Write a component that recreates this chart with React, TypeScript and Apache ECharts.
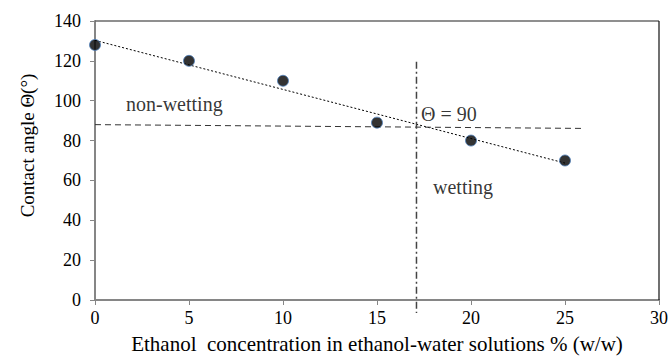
import React, { useEffect, useRef } from "react";
import * as echarts from "echarts";

const xValues = [0, 5, 10, 15, 20, 25];
const yValues = [128, 120, 110, 89, 80, 70];
const trendLine = [[0, 130.3], [25, 68.7]];
const thresholdLine = [[0, 88], [26, 86.1]];
const criticalLine = [[17.1, 119.5], [17.1, -6.5]];
const annotations = [
  { name: "non-wetting", value: [1.65, 98.5] },
  { name: "Θ = 90", value: [17.34, 93.3] },
  { name: "wetting", value: [17.98, 56.7] },
];
const xRange = [0, 30];
const yRange = [0, 140];
const xTitle = "Ethanol  concentration in ethanol-water solutions % (w/w)";
const yTitle = "Contact angle Θ(°)";

const FONT = "Liberation Serif";

export default function App() {
  const ref = useRef<HTMLDivElement>(null);
  useEffect(() => {
    if (!ref.current) return;
    const chart = echarts.init(ref.current, undefined, { renderer: "svg" });
    chart.setOption({
      animation: false,
      textStyle: { fontFamily: FONT },
      grid: {
        left: 95,
        right: 10,
        top: 21,
        bottom: 58,
        containLabel: false,
        outerBoundsMode: "none",
      },
      xAxis: {
        type: "value",
        min: xRange[0],
        max: xRange[1],
        interval: 5,
        position: "bottom",
        name: xTitle,
        nameLocation: "middle",
        nameGap: 33,
        nameTextStyle: { fontFamily: FONT, fontSize: 21, color: "#000" },
        axisLine: { show: true, onZero: false, lineStyle: { color: "#868686", width: 2 } },
        axisTick: { show: true, length: 5, lineStyle: { color: "#868686", width: 1 } },
        axisLabel: { fontFamily: FONT, fontSize: 18, color: "#000", margin: 9 },
        splitLine: { show: false },
      },
      yAxis: {
        type: "value",
        min: yRange[0],
        max: yRange[1],
        interval: 20,
        position: "left",
        name: yTitle,
        nameLocation: "middle",
        nameGap: 58,
        nameRotate: 90,
        nameTextStyle: { fontFamily: FONT, fontSize: 19, color: "#000", padding: [0, 0, 0, 30] },
        axisLine: { show: true, onZero: false, lineStyle: { color: "#868686", width: 2 } },
        axisTick: { show: true, length: 5, lineStyle: { color: "#868686", width: 1 } },
        axisLabel: { fontFamily: FONT, fontSize: 18, color: "#000", margin: 14 },
        splitLine: { show: false },
      },
      series: [
        {
          type: "line",
          data: trendLine,
          symbol: "none",
          lineStyle: { color: "#000", width: 1, type: [2, 2] },
          z: 2,
        },
        {
          type: "line",
          data: thresholdLine,
          symbol: "none",
          lineStyle: { color: "#333", width: 1, type: [6, 4] },
          z: 2,
        },
        {
          type: "line",
          data: criticalLine,
          symbol: "none",
          clip: false,
          lineStyle: { color: "#444", width: 1.5, type: [7, 3, 2, 3] },
          z: 2,
        },
        {
          type: "scatter",
          data: xValues.map((x, i) => [x, yValues[i]]),
          symbol: "circle",
          symbolSize: 11,
          itemStyle: { color: "#000", borderColor: "#4f81bd", borderWidth: 1 },
          clip: false,
          z: 5,
        },
        {
          type: "scatter",
          data: annotations,
          symbolSize: 0,
          silent: true,
          label: {
            show: true,
            position: "right",
            distance: 0,
            formatter: (p: any) => p.name,
            fontFamily: FONT,
            fontSize: 20,
            color: "#000",
            verticalAlign: "middle",
          },
          z: 6,
        },
      ],
    });
    // frame: top (grey) and right (black) edges of the plot area, from the axes' own scale
    const tl = chart.convertToPixel({ gridIndex: 0 }, [xRange[0], yRange[1]]) as number[];
    const tr = chart.convertToPixel({ gridIndex: 0 }, [xRange[1], yRange[1]]) as number[];
    const br = chart.convertToPixel({ gridIndex: 0 }, [xRange[1], yRange[0]]) as number[];
    if (tl && tr && br) {
      chart.setOption({
        graphic: [
          {
            type: "line",
            shape: { x1: tl[0], y1: tl[1], x2: tr[0], y2: tr[1] },
            style: { stroke: "#6a6a6a", lineWidth: 1.5 },
            z: 10,
          },
          {
            type: "line",
            shape: { x1: tr[0], y1: tr[1], x2: br[0], y2: br[1] },
            style: { stroke: "#111", lineWidth: 1.2 },
            z: 10,
          },
        ],
      });
    }
    return () => chart.dispose();
  }, []);
  return (
    <div
      ref={ref}
      style={{ position: "absolute", left: 0, top: 0, width: 669, height: 358 }}
    />
  );
}
